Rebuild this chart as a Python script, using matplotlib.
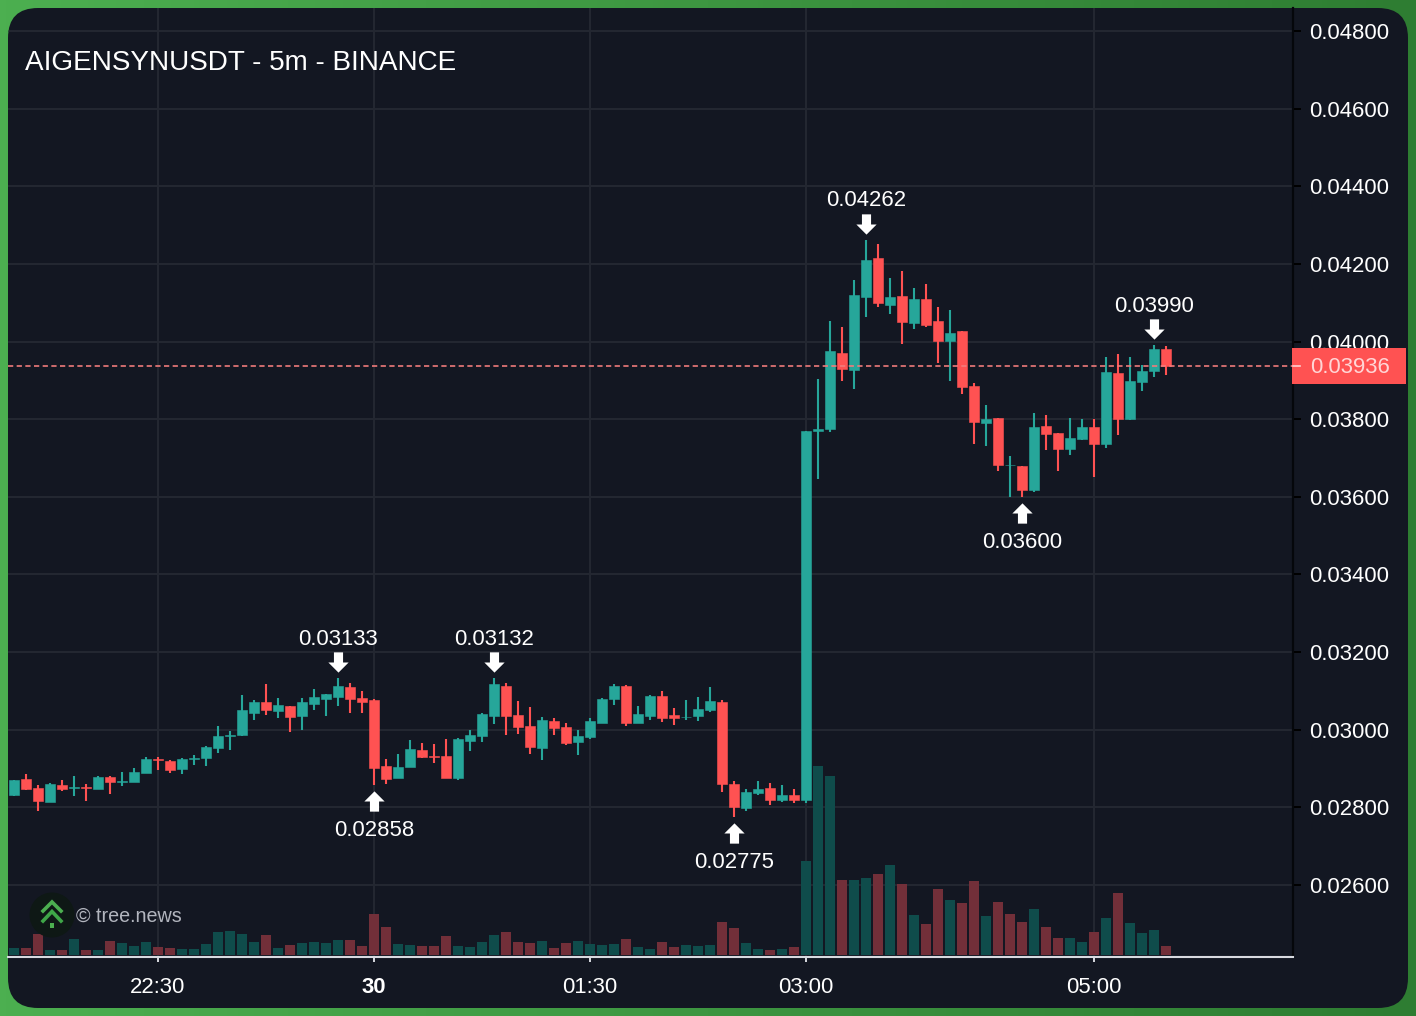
import matplotlib
matplotlib.use("Agg")
import matplotlib.pyplot as plt
import numpy as np
from matplotlib.patches import FancyBboxPatch, Circle, Rectangle
from matplotlib.path import Path
from matplotlib.transforms import offset_copy

plt.rcParams['font.family'] = ['Liberation Sans', 'DejaVu Sans']

W, H = 1416, 1016

# OHLC for each 5m candle, oldest first
opens = [0.02832, 0.02873, 0.02850, 0.02814, 0.02858, 0.02850, 0.02852, 0.02847, 0.02878, 0.02865,
         0.02865, 0.02889, 0.02925, 0.02919, 0.02899, 0.02925, 0.02927, 0.02953, 0.02984, 0.02986,
         0.03043, 0.03071, 0.03048, 0.03061, 0.03035, 0.03066, 0.03079, 0.03084, 0.03110, 0.03082,
         0.03077, 0.02907, 0.02876, 0.02904, 0.02948, 0.02932, 0.02932, 0.02876, 0.02971, 0.02984,
         0.03035, 0.03113, 0.03038, 0.03010, 0.02953, 0.03022, 0.03007, 0.02968, 0.02981, 0.03017,
         0.03079, 0.03113, 0.03017, 0.03035, 0.03087, 0.03038, 0.03032, 0.03035, 0.03051, 0.03071,
         0.02860, 0.02798, 0.02837, 0.02850, 0.02819, 0.02832, 0.02819, 0.03770, 0.03775, 0.03970,
         0.03927, 0.04115, 0.04215, 0.04094, 0.04117, 0.04048, 0.04110, 0.04053, 0.04001, 0.04027,
         0.03885, 0.03790, 0.03803, 0.03682, 0.03679, 0.03618, 0.03782, 0.03764, 0.03723, 0.03749,
         0.03780, 0.03736, 0.03919, 0.03800, 0.03896, 0.03924, 0.03981]
highs = [0.02870, 0.02886, 0.02858, 0.02863, 0.02870, 0.02881, 0.02860, 0.02881, 0.02881, 0.02891,
         0.02901, 0.02930, 0.02930, 0.02922, 0.02927, 0.02935, 0.02958, 0.03010, 0.02997, 0.03089,
         0.03077, 0.03118, 0.03082, 0.03061, 0.03082, 0.03105, 0.03092, 0.03133, 0.03120, 0.03100,
         0.03079, 0.02925, 0.02937, 0.02974, 0.02966, 0.02963, 0.02976, 0.02979, 0.02999, 0.03043,
         0.03132, 0.03120, 0.03074, 0.03059, 0.03033, 0.03030, 0.03017, 0.02999, 0.03030, 0.03082,
         0.03118, 0.03115, 0.03061, 0.03089, 0.03100, 0.03056, 0.03077, 0.03084, 0.03110, 0.03077,
         0.02868, 0.02847, 0.02868, 0.02863, 0.02858, 0.02847, 0.03770, 0.03903, 0.04053, 0.04037,
         0.04158, 0.04262, 0.04251, 0.04164, 0.04182, 0.04138, 0.04148, 0.04089, 0.04081, 0.04027,
         0.03893, 0.03836, 0.03803, 0.03705, 0.03679, 0.03816, 0.03811, 0.03764, 0.03803, 0.03800,
         0.03800, 0.03960, 0.03968, 0.03960, 0.03940, 0.03990, 0.03988]
lows = [0.02829, 0.02845, 0.02791, 0.02814, 0.02842, 0.02829, 0.02816, 0.02847, 0.02834, 0.02855,
        0.02865, 0.02889, 0.02896, 0.02889, 0.02886, 0.02909, 0.02907, 0.02940, 0.02948, 0.02985,
        0.03025, 0.03038, 0.03030, 0.02994, 0.02999, 0.03051, 0.03035, 0.03061, 0.03043, 0.03043,
        0.02858, 0.02860, 0.02876, 0.02904, 0.02927, 0.02914, 0.02876, 0.02870, 0.02945, 0.02968,
        0.03015, 0.02986, 0.02989, 0.02937, 0.02922, 0.02986, 0.02961, 0.02935, 0.02976, 0.03017,
        0.03064, 0.03010, 0.03017, 0.03025, 0.03020, 0.03012, 0.03025, 0.03022, 0.03046, 0.02840,
        0.02775, 0.02791, 0.02832, 0.02806, 0.02814, 0.02811, 0.02811, 0.03646, 0.03767, 0.03898,
        0.03878, 0.04063, 0.04089, 0.04071, 0.03994, 0.04032, 0.04037, 0.03945, 0.03898, 0.03865,
        0.03736, 0.03731, 0.03666, 0.03600, 0.03600, 0.03612, 0.03721, 0.03666, 0.03708, 0.03746,
        0.03651, 0.03726, 0.03759, 0.03798, 0.03873, 0.03909, 0.03914]
closes = [0.02870, 0.02847, 0.02816, 0.02860, 0.02847, 0.02852, 0.02849, 0.02878, 0.02865, 0.02868,
          0.02891, 0.02925, 0.02923, 0.02896, 0.02925, 0.02927, 0.02955, 0.02984, 0.02986, 0.03051,
          0.03071, 0.03051, 0.03064, 0.03033, 0.03071, 0.03084, 0.03092, 0.03113, 0.03079, 0.03071,
          0.02901, 0.02873, 0.02904, 0.02950, 0.02930, 0.02930, 0.02876, 0.02976, 0.02986, 0.03041,
          0.03118, 0.03035, 0.03007, 0.02955, 0.03025, 0.03004, 0.02966, 0.02984, 0.03022, 0.03079,
          0.03113, 0.03017, 0.03041, 0.03087, 0.03030, 0.03030, 0.03034, 0.03053, 0.03074, 0.02860,
          0.02801, 0.02840, 0.02847, 0.02819, 0.02832, 0.02819, 0.03770, 0.03775, 0.03976, 0.03929,
          0.04120, 0.04210, 0.04099, 0.04115, 0.04050, 0.04110, 0.04043, 0.04001, 0.04022, 0.03883,
          0.03793, 0.03800, 0.03682, 0.03682, 0.03618, 0.03780, 0.03762, 0.03723, 0.03751, 0.03780,
          0.03736, 0.03921, 0.03800, 0.03898, 0.03924, 0.03981, 0.03936]
volumes = [7, 7, 21, 5, 5, 16, 5, 5, 14, 12, 9, 13, 8, 7, 6, 6, 11, 23, 24, 21,
           13, 20, 7, 10, 12, 13, 12, 15, 15, 9, 41, 28, 11, 10, 9, 9, 19, 9, 8, 13,
           20, 23, 13, 12, 14, 7, 12, 14, 11, 10, 11, 16, 8, 6, 13, 8, 10, 9, 10, 33,
           27, 12, 6, 5, 6, 8, 94, 189, 179, 75, 75, 77, 81, 90, 71, 40, 31, 66, 55, 52,
           74, 39, 53, 41, 33, 46, 28, 17, 17, 13, 23, 37, 62, 32, 22, 25, 9]

price_ticks = [0.026, 0.028, 0.030, 0.032, 0.034, 0.036, 0.038, 0.040, 0.042, 0.044, 0.046, 0.048]
time_idx = [12, 30, 48, 66, 90]
time_labels = ["22:30", "30", "01:30", "03:00", "05:00"]
high_marks = [27, 40, 71, 95]
low_marks = [30, 60, 84]
last_price = closes[-1]

UP = "#26a69a"
DOWN = "#ff5252"
VOL_UP = "#0f4c4b"
VOL_DOWN = "#722f39"
PANEL = "#131722"
GRID = "#242832"

opens, highs, lows, closes = map(np.array, (opens, highs, lows, closes))
x = np.arange(len(closes))


def px_axes(left, top, right, bottom, **kw):
    return fig.add_axes([left / W, 1 - bottom / H, (right - left) / W, (bottom - top) / H], **kw)


fig = plt.figure(figsize=(W / 100, H / 100), dpi=100)

# green frame and rounded dark panel
bg = fig.add_axes([0, 0, 1, 1], zorder=0)
bg.set_xlim(0, W)
bg.set_ylim(H, 0)
bg.axis("off")
grad = np.linspace(0, 1, 256).reshape(1, -1, 1)
left_c = np.array([76, 175, 80]) / 255
right_c = np.array([46, 125, 50]) / 255
bg.imshow(left_c + (right_c - left_c) * grad, extent=(0, W, H, 0), aspect="auto")
panel = FancyBboxPatch((8 + 30, 8 + 30), 1400 - 60, 1000 - 60, boxstyle="round,pad=30,rounding_size=30",
                       fc=PANEL, ec="none")
bg.add_patch(panel)

# price pane: 12 px per candle, 0.002 = 77.64 px
ax = px_axes(8, 8, 1292.5, 957, zorder=1)
ax.patch.set_visible(False)
ax.set_xlim((8 - 14) / 12, (1292.5 - 14) / 12)
ax.set_ylim(0.026 - 72 / 38820, 0.026 + 877 / 38820)

ax.set_yticks(price_ticks)
ax.set_yticklabels([f"{p:.5f}" for p in price_ticks], color="white", fontsize=15.9)
ax.yaxis.tick_right()
ax.tick_params(axis="y", length=5.8, width=1.4, color="black", pad=6.5)
ax.set_xticks(time_idx)
ax.set_xticklabels(time_labels, color="white", fontsize=15.9)
ax.get_xticklabels()[1].set_fontweight("bold")
ax.tick_params(axis="x", length=3.6, width=1.4, color="#d8dae0", pad=11)

ax.grid(True, color=GRID, lw=1.4)
ax.set_axisbelow(True)
for line in ax.get_xgridlines() + ax.get_ygridlines():
    line.set_clip_path(panel)

for side in ("left", "top"):
    ax.spines[side].set_visible(False)
ax.spines["right"].set_color("#05070b")
ax.spines["right"].set_linewidth(1.6)
ax.spines["bottom"].set_color("#d8dae0")
ax.spines["bottom"].set_linewidth(1.5)

up = closes >= opens
colors = [UP if u else DOWN for u in up]
ax.vlines(x, lows, highs, colors=colors, lw=1.5, zorder=3)
ax.bar(x, np.abs(closes - opens), bottom=np.minimum(opens, closes), width=10 / 12,
       color=colors, edgecolor=colors, lw=0.4, zorder=4)

# last price line
ax.axhline(last_price, color="#f47c7c", lw=1.3, dashes=(2.9, 1.9), alpha=0.9, zorder=5)

# arrows with swing high/low values
arrow = Path([(-1, 0), (0, 1), (1, 0), (0.45, 0), (0.45, -1), (-0.45, -1), (-0.45, 0), (-1, 0)])
arrow_dn = Path(arrow.vertices * [1, -1])
hi_tr = offset_copy(ax.transData, fig=fig, y=16, units="dots")
lo_tr = offset_copy(ax.transData, fig=fig, y=-16, units="dots")
ax.plot(high_marks, highs[high_marks], ls="", marker=arrow_dn, ms=14.6, color="white", mew=0, transform=hi_tr, zorder=6)
ax.plot(low_marks, lows[low_marks], ls="", marker=arrow, ms=14.6, color="white", mew=0, transform=lo_tr, zorder=6)
for i in high_marks:
    ax.annotate(f"{highs[i]:.5f}", (i, highs[i]), xytext=(0, 39), textcoords="offset pixels",
                ha="center", va="center", color="white", fontsize=15.9, zorder=7)
for i in low_marks:
    ax.annotate(f"{lows[i]:.5f}", (i, lows[i]), xytext=(0, -45.5), textcoords="offset pixels",
                ha="center", va="center", color="white", fontsize=15.9, zorder=7)

# volume bars along the bottom, on their own scale
vol_ax = px_axes(8, 8, 1292.5, 955, zorder=2)
vol_ax.patch.set_visible(False)
vol_ax.axis("off")
vol_ax.set_xlim(ax.get_xlim())
vol_ax.set_ylim(0, 947)
vol_colors = [VOL_UP if c > o else VOL_DOWN for o, c in zip(opens, closes)]
vol_ax.bar(x, volumes, width=10 / 12, color=vol_colors)

# title, watermark and last price tag
top = fig.add_axes([0, 0, 1, 1], zorder=3)
top.set_xlim(0, W)
top.set_ylim(H, 0)
top.axis("off")
top.patch.set_visible(False)
top.text(25, 62.5, "AIGENSYNUSDT - 5m - BINANCE", color="white", fontsize=20.1, va="center", ha="left")

top.add_patch(Circle((52, 915), 22.5, fc="#0e1815", ec="none"))
top.plot([43, 52, 61], [911, 902, 911], color="#4caf50", lw=2.6, solid_joinstyle="miter")
top.plot([43, 52, 61], [921, 911.5, 921], color="#3fa648", lw=2.6, solid_joinstyle="miter")
top.add_patch(Rectangle((50, 923), 4, 5, fc="#4caf50", ec="none"))
top.text(76, 916, "© tree.news", color="#b2b5be", fontsize=14.2, va="center", ha="left")

top.add_patch(Rectangle((1292, 348), 114, 36, fc=DOWN, ec="none"))
top.plot([1293, 1300], [366, 366], color="#ffd0d0", lw=1.2)
top.text(1310, 367.5, f"{last_price:.5f}", color="#ffd6d6", fontsize=15.9, va="center", ha="left")

fig.savefig("out.png", dpi=100)
